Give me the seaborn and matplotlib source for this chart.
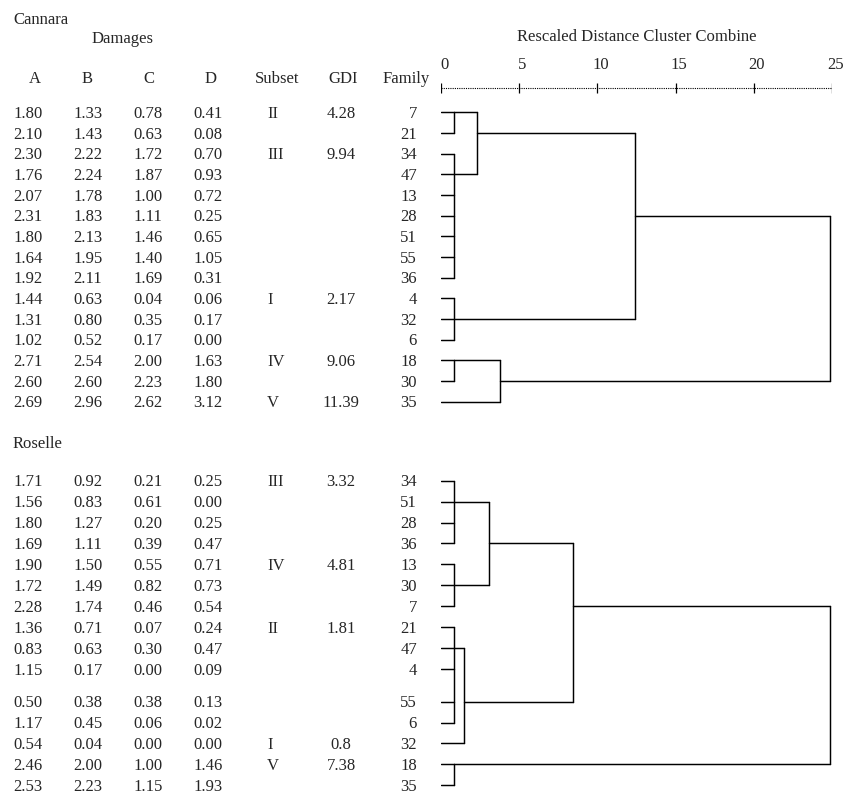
import numpy as np
import pandas as pd
import matplotlib
matplotlib.use("Agg")
import matplotlib.pyplot as plt
import seaborn as sns

# ---------------- data ----------------
damage_cols = ["A", "B", "C", "D"]

cannara_A = [1.80, 2.10, 2.30, 1.76, 2.07, 2.31, 1.80, 1.64, 1.92, 1.44, 1.31, 1.02, 2.71, 2.60, 2.69]
cannara_B = [1.33, 1.43, 2.22, 2.24, 1.78, 1.83, 2.13, 1.95, 2.11, 0.63, 0.80, 0.52, 2.54, 2.60, 2.96]
cannara_C = [0.78, 0.63, 1.72, 1.87, 1.00, 1.11, 1.46, 1.40, 1.69, 0.04, 0.35, 0.17, 2.00, 2.23, 2.62]
cannara_D = [0.41, 0.08, 0.70, 0.93, 0.72, 0.25, 0.65, 1.05, 0.31, 0.06, 0.17, 0.00, 1.63, 1.80, 3.12]
cannara_subset = ["II", "", "III", "", "", "", "", "", "", "I", "", "", "IV", "", "V"]
cannara_gdi = ["4.28", "", "9.94", "", "", "", "", "", "", "2.17", "", "", "9.06", "", "11.39"]
cannara_family = [7, 21, 34, 47, 13, 28, 51, 55, 36, 4, 32, 6, 18, 30, 35]
# merges: (child node ids, rescaled distance, row of outgoing line); leaves are 0..14
cannara_merges = [
    ([0, 1], 0.8, 0),
    ([2, 3, 4, 5, 6, 7, 8], 0.8, 3),
    ([15, 16], 2.3, 1),
    ([9, 10, 11], 0.8, 10),
    ([17, 18], 12.4, 5),
    ([12, 13], 0.8, 12),
    ([20, 14], 3.8, 13),
    ([19, 21], 24.85, None),
]

roselle_A = [1.71, 1.56, 1.80, 1.69, 1.90, 1.72, 2.28, 1.36, 0.83, 1.15, 0.50, 1.17, 0.54, 2.46, 2.53]
roselle_B = [0.92, 0.83, 1.27, 1.11, 1.50, 1.49, 1.74, 0.71, 0.63, 0.17, 0.38, 0.45, 0.04, 2.00, 2.23]
roselle_C = [0.21, 0.61, 0.20, 0.39, 0.55, 0.82, 0.46, 0.07, 0.30, 0.00, 0.38, 0.06, 0.00, 1.00, 1.15]
roselle_D = [0.25, 0.00, 0.25, 0.47, 0.71, 0.73, 0.54, 0.24, 0.47, 0.09, 0.13, 0.02, 0.00, 1.46, 1.93]
roselle_subset = ["III", "", "", "", "IV", "", "", "II", "", "", "", "", "I", "V", ""]
roselle_gdi = ["3.32", "", "", "", "4.81", "", "", "1.81", "", "", "", "", "0.8", "7.38", ""]
roselle_family = [34, 51, 28, 36, 13, 30, 7, 21, 47, 4, 55, 6, 32, 18, 35]
roselle_merges = [
    ([0, 1, 2, 3], 0.8, 1),
    ([4, 5, 6], 0.8, 5),
    ([15, 16], 3.05, 3),
    ([7, 8, 9, 10, 11], 0.8, 8),
    ([18, 12], 1.5, 10),
    ([17, 19], 8.45, 6),
    ([13, 14], 0.8, 13),
    ([20, 21], 24.85, None),
]

axis_ticks = [0, 5, 10, 15, 20, 25]

# ---------------- layout ----------------
W, H = 843, 794
sns.set_theme(style="white")
plt.rcParams["font.family"] = ["Liberation Serif", "DejaVu Serif"]
FS = 12

fig = plt.figure(figsize=(W / 100, H / 100), dpi=100)
fig.patch.set_facecolor("white")
ax = fig.add_axes([0, 0, 1, 1])
ax.set_xlim(0, W)
ax.set_ylim(H, 0)
ax.axis("off")

x0_px, x25_px = 441.0, 832.0
axd = fig.add_axes([x0_px / W, 0, (x25_px - x0_px) / W, 1])
axd.set_xlim(0, 25)
axd.set_ylim(H, 0)
axd.axis("off")
axd.patch.set_alpha(0)


def row_positions(y0, step, n, gap_after=None, gap=0.0):
    ys = []
    y = y0
    for i in range(n):
        ys.append(y)
        y += step
        if gap_after is not None and i == gap_after:
            y += gap
    return ys


sections = [
    dict(title="Cannara", title_y=18, A=cannara_A, B=cannara_B, C=cannara_C, D=cannara_D,
         subset=cannara_subset, gdi=cannara_gdi, family=cannara_family, merges=cannara_merges,
         rows=row_positions(112.3, 20.67, 15)),
    dict(title="Roselle", title_y=442, A=roselle_A, B=roselle_B, C=roselle_C, D=roselle_D,
         subset=roselle_subset, gdi=roselle_gdi, family=roselle_family, merges=roselle_merges,
         rows=row_positions(480.7, 20.9, 15, gap_after=9, gap=12.0)),
]

col_left = {"A": 13, "B": 73, "C": 133, "D": 193}
hdr_x = {"A": 35, "B": 87, "C": 149, "D": 211}
BL = 5.8  # baseline offset from row centre

# headers
ax.text(13, sections[0]["title_y"] + BL, "Cannara", fontsize=FS, ha="left", va="baseline")
ax.text(92, 37 + BL, "Damages", fontsize=FS, ha="left", va="baseline")
for c in damage_cols:
    ax.text(hdr_x[c], 77 + BL, c, fontsize=FS, ha="center", va="baseline")
ax.text(277, 77 + BL, "Subset", fontsize=FS, ha="center", va="baseline")
ax.text(343, 77 + BL, "GDI", fontsize=FS, ha="center", va="baseline")
ax.text(406, 77 + BL, "Family", fontsize=FS, ha="center", va="baseline")
ax.text(13, sections[1]["title_y"] + BL, "Roselle", fontsize=FS, ha="left", va="baseline")

segs = []
seg_id = 0
for sec in sections:
    rows = sec["rows"]
    for i, y in enumerate(rows):
        for c in damage_cols:
            ax.text(col_left[c], y + BL, f"{sec[c][i]:.2f}", fontsize=FS, ha="left", va="baseline")
        if sec["subset"][i]:
            ax.text(267, y + BL, sec["subset"][i], fontsize=FS, ha="left", va="baseline")
        if sec["gdi"][i]:
            ax.text(341, y + BL, sec["gdi"][i], fontsize=FS, ha="center", va="baseline")
        ax.text(417, y + BL, str(sec["family"][i]), fontsize=FS, ha="right", va="baseline")

    # dendrogram segments
    n = len(sec["family"])
    node_x = {i: 0.0 for i in range(n)}
    node_row = {i: i for i in range(n)}
    nid = n
    for children, h, out_row in sec["merges"]:
        crow = [node_row[c] for c in children]
        for c in children:
            yy = rows[node_row[c]]
            segs.append((node_x[c], yy, seg_id)); segs.append((h, yy, seg_id)); seg_id += 1
        segs.append((h, rows[min(crow)], seg_id)); segs.append((h, rows[max(crow)], seg_id)); seg_id += 1
        node_x[nid] = h
        node_row[nid] = out_row if out_row is not None else min(crow)
        nid += 1

df = pd.DataFrame(segs, columns=["x", "y", "seg"])
sns.lineplot(data=df, x="x", y="y", units="seg", estimator=None, sort=False,
             color="black", linewidth=1.05, ax=axd, legend=False)
axd.set_xlim(0, 25)
axd.set_ylim(H, 0)
axd.axis("off")

# distance scale
axis_y = 88.3
axd.hlines(axis_y, 0, 25.25, colors="black", linestyles=(0, (1.0, 1.0)), linewidth=0.8)
axd.vlines(axis_ticks, axis_y - 5, axis_y + 5, colors="black", linewidth=0.9)
for t in axis_ticks:
    axd.text(t + 0.2, 63 + BL, str(t), fontsize=FS, ha="center", va="baseline")
axd.text(12.5, 35 + BL, "Rescaled Distance Cluster Combine", fontsize=FS, ha="center", va="baseline")

fig.savefig("out.png", dpi=100, facecolor="white")
